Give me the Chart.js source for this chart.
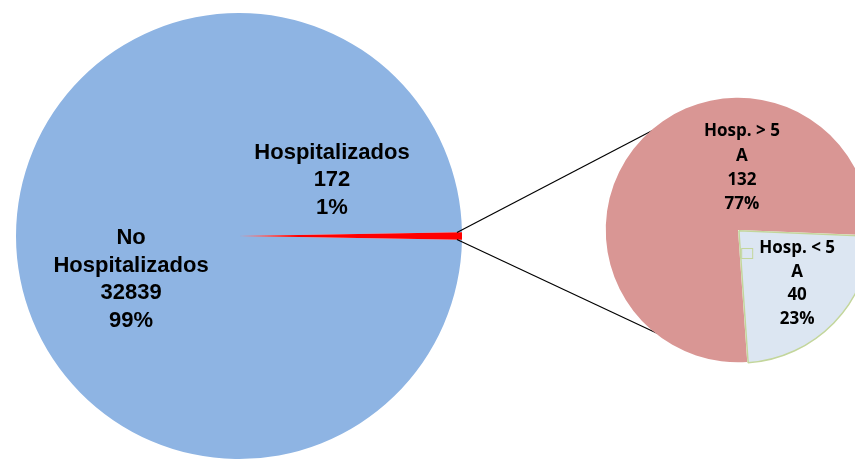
<!DOCTYPE html>
<html>
<head>
<meta charset="utf-8">
<script src="https://cdn.jsdelivr.net/npm/chart.js@4"></script>
<style>
  html, body { margin: 0; padding: 0; background: #fff; overflow: hidden; width: 855px; height: 459px; }
  canvas { position: absolute; left: 0; top: 0; }
</style>
</head>
<body>
<canvas id="main-pie" width="855" height="459"></canvas>
<canvas id="detail-pie" width="900" height="459"></canvas>
<script>
// Pacientes: hospitalizados vs no hospitalizados
const mainLabels = [['No', 'Hospitalizados'], ['Hospitalizados']];
const mainValues = [32839, 172];
const mainColors = ['#8EB4E3', '#FF0000'];

// Desglose de los hospitalizados por edad
const detailLabels = [['Hosp. > 5', 'A'], ['Hosp. < 5', 'A']];
const detailValues = [132, 40];
const detailColors = ['#D99694', '#DCE6F2'];

const percent = (v, arr) => Math.round(v * 100 / arr.reduce((a, b) => a + b, 0)) + '%';

// label blocks, placed as fractions of the pie radius from its centre
const mainLabelPos = [
  { dx: -0.484, dy: 0.195, lineHeight: 27.7 },
  { dx: 0.417, dy: -0.251, lineHeight: 27.5 }
];
const detailLabelPos = [
  { dx: 0.03, dy: -0.47, lineHeight: 24.3 },
  { dx: 0.447, dy: 0.405, lineHeight: 23.7, key: true }
];

function labelPlugin(labels, values, positions, font) {
  return {
    id: 'sliceLabels',
    afterDatasetsDraw(chart) {
      const ctx = chart.ctx;
      const arcs = chart.getDatasetMeta(0).data;
      ctx.save();
      ctx.font = font;
      ctx.fillStyle = '#000';
      ctx.textAlign = 'center';
      ctx.textBaseline = 'middle';
      arcs.forEach((arc, i) => {
        const pos = positions[i];
        const r = arc.outerRadius;
        const cx = arc.x + pos.dx * r;
        const cy = arc.y + pos.dy * r;
        const lines = labels[i].concat([String(values[i]), percent(values[i], values)]);
        const top = cy - (lines.length - 1) * pos.lineHeight / 2;
        lines.forEach((line, j) => ctx.fillText(line, cx, top + j * pos.lineHeight));
        if (pos.key) {
          // small legend key next to the first line
          const w = ctx.measureText(lines[0]).width;
          const kx = cx - w / 2 - 18;
          ctx.fillStyle = detailColors[i];
          ctx.strokeStyle = '#C3D69B';
          ctx.lineWidth = 1;
          ctx.fillRect(kx, top, 11, 10);
          ctx.strokeRect(kx + 0.5, top + 0.5, 11, 10);
          ctx.fillStyle = '#000';
        }
      });
      ctx.restore();
    }
  };
}

const mainRedAngle = mainValues[1] / (mainValues[0] + mainValues[1]) * 360;

const mainChart = new Chart(document.getElementById('main-pie'), {
  type: 'pie',
  data: {
    labels: mainLabels,
    datasets: [{
      data: mainValues,
      backgroundColor: mainColors,
      borderWidth: 0
    }]
  },
  options: {
    responsive: false,
    animation: false,
    devicePixelRatio: 1,
    rotation: 90 + mainRedAngle / 2,
    layout: { padding: { left: 16, top: 13, right: 393, bottom: 0 } },
    plugins: { legend: { display: false }, tooltip: { enabled: false } }
  },
  plugins: [labelPlugin(mainLabels, mainValues, mainLabelPos, 'bold 22px "Liberation Sans", Arial, sans-serif')]
});

// lines joining the red slice to the detail pie
const connectorPlugin = {
  id: 'connectors',
  beforeDatasetsDraw(chart) {
    const red = mainChart.getDatasetMeta(0).data[1];
    const pie = chart.getDatasetMeta(0).data[0];
    const r0 = red.outerRadius - 5;
    const r1 = pie.outerRadius - 1;
    const ends = [
      [red.startAngle, -130.7 * Math.PI / 180],
      [red.endAngle, 128.1 * Math.PI / 180]
    ];
    const ctx = chart.ctx;
    ctx.save();
    ctx.strokeStyle = '#000';
    ctx.lineWidth = 1.2;
    ends.forEach(([a0, a1]) => {
      ctx.beginPath();
      ctx.moveTo(red.x + r0 * Math.cos(a0), red.y + r0 * Math.sin(a0));
      ctx.lineTo(pie.x + r1 * Math.cos(a1), pie.y + r1 * Math.sin(a1));
      ctx.stroke();
    });
    ctx.restore();
  }
};

new Chart(document.getElementById('detail-pie'), {
  type: 'pie',
  data: {
    labels: detailLabels,
    datasets: [{
      data: detailValues,
      backgroundColor: detailColors,
      borderColor: ['#FFFFFF', '#C3D69B'],
      borderWidth: [0, 1.5],
      offset: [0, 5]
    }]
  },
  options: {
    responsive: false,
    animation: false,
    devicePixelRatio: 1,
    rotation: 176,
    layout: { padding: { left: 602.5, top: 94.5, right: 26.5, bottom: 93.5 } },
    plugins: { legend: { display: false }, tooltip: { enabled: false } }
  },
  plugins: [connectorPlugin, labelPlugin(detailLabels, detailValues, detailLabelPos, 'bold 17px "Open Sans", sans-serif')]
});
</script>
</body>
</html>
